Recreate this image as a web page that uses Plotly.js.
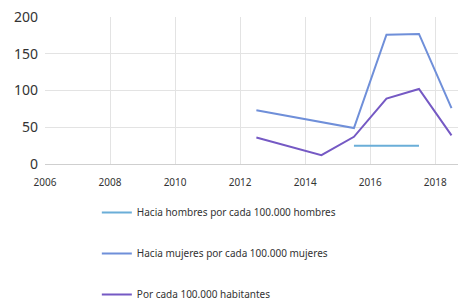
<!DOCTYPE html>
<html>
<head>
<meta charset="utf-8">
<script src="https://cdn.plot.ly/plotly-3.0.1.min.js"></script>
<style>html,body{margin:0;padding:0;background:#fff;}#chart{width:458px;height:299px;}</style>
</head>
<body>
<div id="chart"></div>
<script>
var years = [2012.5, 2014.5, 2015.5, 2016.5, 2017.5, 2018.5];
var hombres = [null, null, 25, 25, 25, null];
var mujeres = [73, null, 49, 176, 177, 76];
var habitantes = [36, 12, 37, 89, 102, 39];
var seriesNames = ["Hacia hombres por cada 100.000 hombres", "Hacia mujeres por cada 100.000 mujeres", "Por cada 100.000 habitantes"];
var xTicks = [2006, 2008, 2010, 2012, 2014, 2016, 2018];
var yTicks = [0, 50, 100, 150, 200];

var colors = ["#6aaed8", "#6f8fd9", "#7559c4"];
var vals = [hombres, mujeres, habitantes];
var traces = vals.map(function(v, i){
  return {x: years, y: v, name: seriesNames[i], type: 'scatter', mode: 'lines',
    connectgaps: true, legendgroup: 'g'+i,
    line: {color: colors[i], width: 2}};
});

var layout = {
  width: 458, height: 299,
  margin: {l: 45, r: 0, t: 17, b: 135, autoexpand: false},
  paper_bgcolor: '#fff', plot_bgcolor: '#fff',
  font: {family: '"Noto Sans", "Open Sans", sans-serif', color: '#333'},
  showlegend: true,
  legend: {orientation: 'v', x: 0.1255, xanchor: 'left', y: -0.231, yanchor: 'top',
    font: {size: 10, color: '#333'}, tracegroupgap: 22, itemwidth: 30, bgcolor: 'rgba(0,0,0,0)'},
  xaxis: {range: [2006, 2018.7], tickvals: xTicks, ticktext: xTicks.map(String),
    showgrid: true, gridcolor: '#e3e3e3', zeroline: false, showline: false,
    tickfont: {size: 10, color: '#333'}, ticks: '', ticklabelstandoff: 11, fixedrange: true},
  yaxis: {range: [0, 200], tickvals: yTicks, showgrid: true, gridcolor: '#e3e3e3',
    zeroline: true, zerolinecolor: '#cfcfcf', showline: false,
    tickfont: {size: 14, color: '#333'}, ticks: '', ticklabelstandoff: 6, fixedrange: true}
};
Plotly.newPlot('chart', traces, layout, {displayModeBar: false, staticPlot: true});
</script>
</body>
</html>
